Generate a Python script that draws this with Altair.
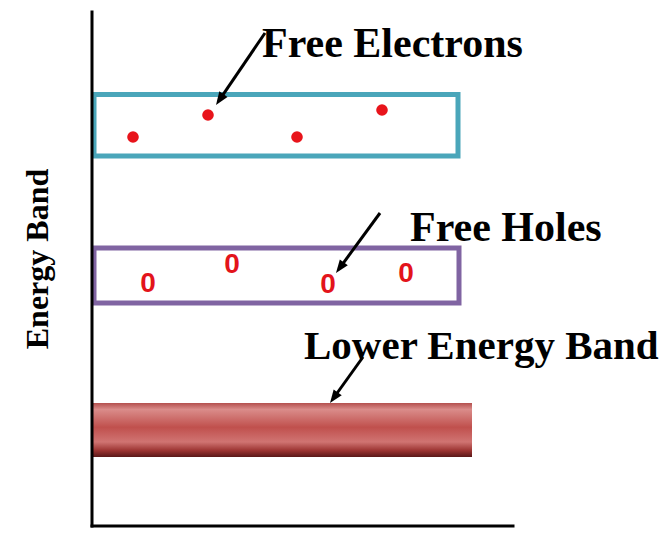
import altair as alt
import numpy as np
import pandas as pd

# ---- data (diagram coordinate system, pixel-like units) ----
band_names = ["Free electron band", "Free hole band"]
band_x0 = [94, 94]
band_x1 = [458, 459]
band_y0 = [94.5, 248]
band_y1 = [156, 303]

lower_x0 = [92]
lower_x1 = [472]
lower_y0 = [403]
lower_y1 = [457]

electron_x = [133, 208, 297, 382]
electron_y = [137, 115, 137, 110]

hole_x = [148, 232, 328, 406]
hole_y = [284, 265, 285, 274]

arrow_x0 = [265, 380, 363]
arrow_y0 = [33, 213, 357]
arrow_x1 = [216, 336, 330]
arrow_y1 = [105, 273, 403]

label_text = ["Free Electrons", "Free Holes", "Lower Energy Band"]
label_x = [262, 410, 304]
label_y = [57, 241, 359]
label_size = [42, 42, 41]

axis_x0 = [92, 92]
axis_y0 = [12, 526]
axis_x1 = [92, 513]
axis_y1 = [526, 526]

title_text = ["Energy Band"]
title_x = [48]
title_y = [259]

# ---- styles ----
band_colors = ["#4AA6BA", "#8064A2"]
XS = alt.Scale(domain=[8, 661], nice=False, zero=False)
YS = alt.Scale(domain=[8, 528], nice=False, zero=False, reverse=True)

def X(f):
    return alt.X(f, type="quantitative", scale=XS, axis=None)

def Y(f):
    return alt.Y(f, type="quantitative", scale=YS, axis=None)

bands = pd.DataFrame({"band": band_names, "x0": band_x0, "x1": band_x1,
                      "y0": band_y0, "y1": band_y1})
lower = pd.DataFrame({"x0": lower_x0, "x1": lower_x1, "y0": lower_y0, "y1": lower_y1})
electrons = pd.DataFrame({"x": electron_x, "y": electron_y})
holes = pd.DataFrame({"x": hole_x, "y": hole_y, "t": ["0"] * len(hole_x)})
axes_df = pd.DataFrame({"x0": axis_x0, "y0": axis_y0, "x1": axis_x1, "y1": axis_y1})
labels = pd.DataFrame({"text": label_text, "x": label_x, "y": label_y, "s": label_size})
title_df = pd.DataFrame({"text": title_text, "x": title_x, "y": title_y})

# arrows: derive direction from start/end
ax0 = np.array(arrow_x0, float); ay0 = np.array(arrow_y0, float)
ax1 = np.array(arrow_x1, float); ay1 = np.array(arrow_y1, float)
dx = ax1 - ax0; dy = ay1 - ay0
L = np.hypot(dx, dy)
ux = dx / L; uy = dy / L
head_r = 8.0
cx = ax1 - ux * head_r
cy = ay1 - uy * head_r
ang = np.degrees(np.arctan2(dx, -dy)) % 360
arrows = pd.DataFrame({"x0": ax0, "y0": ay0, "xe": cx, "ye": cy, "cx": cx, "cy": cy, "ang": ang})

axis_layer = alt.Chart(axes_df).mark_rule(color="black", strokeWidth=3, strokeCap="square").encode(
    x=X("x0"), y=Y("y0"), x2="x1", y2="y1")

band_layer = alt.Chart(bands).mark_rect(filled=False, strokeWidth=5).encode(
    x=X("x0"), x2="x1", y=Y("y0"), y2="y1",
    stroke=alt.Stroke("band:N", scale=alt.Scale(domain=band_names, range=band_colors), legend=None))

grad = alt.Gradient(
    gradient="linear", x1=0, x2=0, y1=0, y2=1,
    stops=[
        alt.GradientStop(color="#B4504E", offset=0.0),
        alt.GradientStop(color="#DA8C8A", offset=0.12),
        alt.GradientStop(color="#C0504D", offset=0.45),
        alt.GradientStop(color="#D07472", offset=0.72),
        alt.GradientStop(color="#9C3432", offset=0.88),
        alt.GradientStop(color="#5A1818", offset=1.0),
    ])
lower_layer = alt.Chart(lower).mark_rect(fill=grad).encode(
    x=X("x0"), x2="x1", y=Y("y0"), y2="y1")

electron_layer = alt.Chart(electrons).mark_circle(size=135, color="#E8141B", opacity=1).encode(
    x=X("x"), y=Y("y"))

hole_layer = alt.Chart(holes).mark_text(
    font="Liberation Sans", fontWeight="bold", fontSize=28, color="#E3141B",
    align="center", baseline="middle").encode(x=X("x"), y=Y("y"), text="t:N")

arrow_lines = alt.Chart(arrows).mark_rule(color="black", strokeWidth=3).encode(
    x=X("x0"), y=Y("y0"), x2="xe", y2="ye")

arrow_heads = alt.Chart(arrows).mark_point(
    shape="M0,-1L0.62,0.65L-0.62,0.65Z", filled=True, color="black", opacity=1,
    size=256, strokeWidth=0).encode(
    x=X("cx"), y=Y("cy"), angle=alt.Angle("ang:Q", scale=None))

label_layer = alt.Chart(labels).mark_text(
    font="Liberation Serif", fontWeight="bold", color="black",
    align="left", baseline="alphabetic").encode(
    x=X("x"), y=Y("y"), text="text:N", size=alt.Size("s:Q", scale=None, legend=None))

title_layer = alt.Chart(title_df).mark_text(
    font="Liberation Serif", fontWeight="bold", fontSize=32, color="black",
    align="center", baseline="alphabetic", angle=270).encode(x=X("x"), y=Y("y"), text="text:N")

chart = alt.layer(
    band_layer, lower_layer, axis_layer, electron_layer, hole_layer,
    arrow_lines, arrow_heads, label_layer, title_layer
).properties(
    width=653, height=520,
    autosize=alt.AutoSizeParams(type="none"),
    padding=0,
    background="white",
).configure_view(stroke=None)

chart.save("out.html", embed_options={"renderer": "svg", "actions": False})
